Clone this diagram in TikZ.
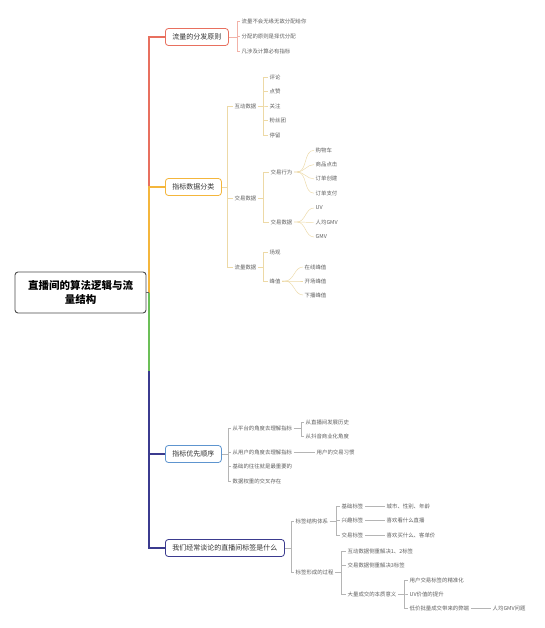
\documentclass[tikz,border=0pt]{standalone}
\usepackage{fontspec}
\setmainfont{Noto Sans CJK SC}
\definecolor{redbr}{HTML}{E8705F}
\definecolor{yelbr}{HTML}{F4B63C}
\definecolor{grnbr}{HTML}{6CBF58}
\definecolor{purbr}{HTML}{3B3B8F}
\definecolor{blubr}{HTML}{5E95CF}
\definecolor{redln}{HTML}{F2B2A8}
\definecolor{yelln}{HTML}{EDD9A6}
\definecolor{grayln}{HTML}{B5B5B5}
\definecolor{leaftxt}{HTML}{606060}
\tikzset{
  root/.style={draw=black!70, line width=0.9pt, rounded corners=3pt, fill=white,
    align=center, font=\fontsize{10.5}{14}\selectfont\bfseries,
    minimum width=131pt, minimum height=41pt, inner sep=2pt},
  branch/.style={draw=#1, line width=0.8pt, rounded corners=3pt, fill=white,
    anchor=west, font=\fontsize{7}{8}\selectfont, text=black!80,
    minimum height=17pt, inner xsep=7pt},
  leaf/.style={anchor=west, font=\fontsize{5.4}{6}\selectfont, text=leaftxt,
    inner xsep=1.5pt, inner ysep=1pt},
  trunk/.style={line width=2.6pt},
  twig/.style={draw=#1, line width=0.45pt},
}
\begin{document}
\begin{tikzpicture}[x=1pt,y=-1pt]
\useasboundingbox[fill=white] (0,0) rectangle (544,628);
% root and the four main branches
\node[root] (root) at (80.5,292.5) {直播间的算法逻辑与流\\量结构};
\coordinate (hub) at (149,292.5);
\node[branch=redbr] (b1) at (165,37) {流量的分发原则};
\node[branch=yelbr] (b2) at (165,187) {指标数据分类};
\node[branch=blubr] (b3) at (165,454) {指标优先顺序};
\node[branch=purbr] (b4) at (165,548) {我们经常谈论的直播间标签是什么};
\draw[trunk,redbr] (hub) |- (b1.west);
\draw[trunk,yelbr] (hub) |- (b2.west);
\draw[trunk,purbr] (hub) |- (b4.west);
\draw[trunk,purbr] (b3.west -| hub) -- (b3.west);
\draw[trunk,grnbr] (hub) -- ++(0,78);
\draw[line width=1.2pt,black!60] (root.east) -- (hub);

% 流量的分发原则
\foreach \t [count=\i] in {流量不会无缘无故分配给你,分配的原则是择优分配,凡涉及计算必有指标} {
  \node[leaf] (r\i) at (240,{6+15*\i}) {\t};
  \draw[twig=redln] (b1.east) -- ++(8,0) |- (r\i.west);
}

% 指标数据分类
\node[leaf] (hd) at (233,106) {互动数据};
\node[leaf] (jy) at (233,198) {交易数据};
\node[leaf] (ll) at (233,267) {流量数据};
\foreach \n in {hd,jy,ll}
  \draw[twig=yelln] (b2.east) -- ++(5,0) |- (\n.west);
\foreach \t [count=\i] in {评论,点赞,关注,粉丝团,停留} {
  \node[leaf] (hd\i) at (268,{62.5+14.5*\i}) {\t};
  \draw[twig=yelln] (hd.east) -- ++(5,0) |- (hd\i.west);
}
\node[leaf] (jyxw) at (269,172) {交易行为};
\node[leaf] (jysj) at (269,222) {交易数据};
\foreach \n in {jyxw,jysj}
  \draw[twig=yelln] (jy.east) -- ++(5,0) |- (\n.west);
\foreach \t [count=\i] in {购物车,商品点击,订单创建,订单支付} {
  \node[leaf] (xw\i) at (314,{136+14.3*\i}) {\t};
  \draw[twig=yelln] (jyxw.east) -- ++(3,0) to[out=0,in=180] (xw\i.west);
}
\foreach \t [count=\i] in {UV,人均GMV,GMV} {
  \node[leaf] (sj\i) at (314,{193.5+14.5*\i}) {\t};
  \draw[twig=yelln] (jysj.east) -- ++(3,0) to[out=0,in=180] (sj\i.west);
}
\node[leaf] (cg) at (268,252) {场观};
\node[leaf] (fz) at (268,281) {峰值};
\foreach \n in {cg,fz}
  \draw[twig=yelln] (ll.east) -- ++(5,0) |- (\n.west);
\foreach \t [count=\i] in {在线峰值,开场峰值,下播峰值} {
  \node[leaf] (fz\i) at (303,{253+14*\i}) {\t};
  \draw[twig=yelln] (fz.east) -- ++(3,0) to[out=0,in=180] (fz\i.west);
}

% 指标优先顺序
\foreach \t [count=\i] in {从平台的角度去理解指标,从用户的角度去理解指标,基础的往往就是最重要的,数据权重的交叉存在} {
  \node[leaf] (p\i) at (231,{452+14.5*(\i-2)+(\i==1)*(-9.5)}) {\t};
  \draw[twig=grayln] (b3.east) -- ++(6,0) |- (p\i.west);
}
\foreach \t [count=\i] in {从直播间发展历史,从抖音商业化角度} {
  \node[leaf] (pt\i) at (304,{408+14*\i}) {\t};
  \draw[twig=grayln] (p1.east) -- ++(7,0) |- (pt\i.west);
}
\node[leaf] (yh) at (315,452) {用户的交易习惯};
\draw[twig=grayln] (p2.east) -- (yh.west);

% 直播间标签
\node[leaf] (t1) at (294,521) {标签结构体系};
\node[leaf] (t2) at (294,572) {标签形成的过程};
\foreach \n in {t1,t2}
  \draw[twig=grayln] (b4.east) -- ++(6,0) |- (\n.west);
\foreach \a/\b [count=\i] in {基础标签/城市、性别、年龄,兴趣标签/喜欢看什么直播,交易标签/喜欢买什么、客单价} {
  \node[leaf] (ts\i) at (340,{491.5+14.5*\i}) {\a};
  \node[leaf] (tv\i) at (385,{491.5+14.5*\i}) {\b};
  \draw[twig=grayln] (t1.east) -- ++(6,0) |- (ts\i.west);
  \draw[twig=grayln] (ts\i.east) -- (tv\i.west);
}
\node[leaf] (xc1) at (346,551) {互动数据侧重解决1、2标签};
\node[leaf] (xc2) at (346,565) {交易数据侧重解决3标签};
\node[leaf] (xc3) at (346,594) {大量成交的本质意义};
\foreach \n in {xc1,xc2,xc3}
  \draw[twig=grayln] (t2.east) -- ++(6,0) |- (\n.west);
\foreach \t [count=\i] in {用户交易标签的精准化,UV价值的提升,低价批量成交带来的弊端} {
  \node[leaf] (yy\i) at (408,{566+14*\i}) {\t};
  \draw[twig=grayln] (xc3.east) -- ++(6,0) |- (yy\i.west);
}
\node[leaf] (rj) at (491,608) {人均GMV问题};
\draw[twig=grayln] (yy3.east) -- (rj.west);
\end{tikzpicture}
\end{document}
